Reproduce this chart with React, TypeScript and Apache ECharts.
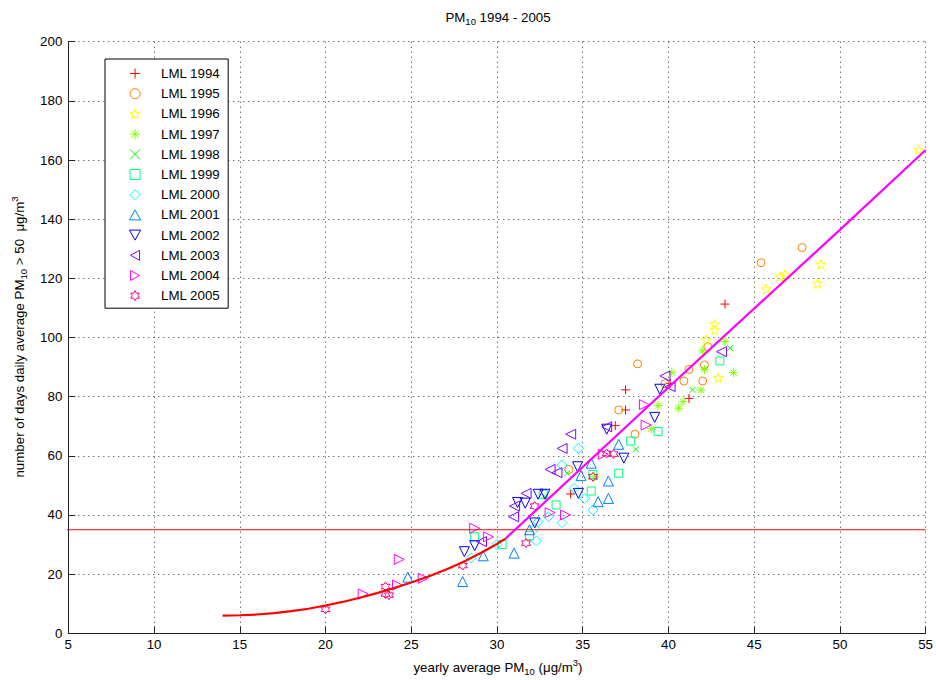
import React, { useEffect, useRef } from 'react';
import * as echarts from 'echarts';

const FONT = '"Liberation Sans", Arial, Helvetica, sans-serif';

const seriesNames = ['LML 1994', 'LML 1995', 'LML 1996', 'LML 1997', 'LML 1998', 'LML 1999', 'LML 2000', 'LML 2001', 'LML 2002', 'LML 2003', 'LML 2004', 'LML 2005'];
const seriesColors = ['#ff0000', '#ff8000', '#ffff00', '#80ff00', '#00ff00', '#00ff80', '#00ffff', '#0080ff', '#0000ff', '#8000ff', '#ff00ff', '#ff0080'];

const xTicks = [5, 10, 15, 20, 25, 30, 35, 40, 45, 50, 55];
const yTicks = [0, 20, 40, 60, 80, 100, 120, 140, 160, 180, 200];

// [yearly average PM10, number of days > 50]
const d1994 = [[34.3, 47.1], [36.9, 70.2], [37.5, 75.5], [37.5, 82.3], [40.1, 84.5], [41.2, 79.4], [43.3, 111.3]];
const d1995 = [[34.2, 55.4], [37.1, 75.5], [38.05, 67.3], [38.2, 91.1], [39.8, 84.4], [40.9, 85.3], [41.2, 89.2], [42.0, 85.3], [42.1, 90.7], [42.3, 96.9], [45.4, 125.3], [47.8, 130.4]];
const d1996 = [[42.2, 99.2], [42.7, 102.5], [42.7, 104.5], [42.9, 86.4], [45.7, 116.4], [46.5, 120.6], [46.8, 121.4], [48.7, 118.3], [48.9, 124.7], [54.6, 163.5]];
const d1997 = [[35.7, 52.9], [39.0, 69.1], [39.4, 77.0], [40.2, 88.2], [40.6, 76.1], [40.85, 78.3], [41.9, 82.2], [42.0, 95.5], [42.1, 89.2], [43.3, 98.6], [43.8, 88.1]];
const d1998 = [[32.8, 46.2], [34.1, 54.1], [38.1, 62.2], [41.4, 82.3], [43.6, 96.4]];
const d1999 = [[28.7, 32.6], [30.3, 30.0], [31.9, 33.0], [32.7, 47.0], [33.45, 43.4], [35.5, 48.1], [35.6, 53.7], [37.1, 54.1], [37.8, 65.0], [39.4, 68.2], [43.0, 92.1]];
const d2000 = [[28.5, 25.5], [30.0, 30.0], [32.3, 31.2], [32.2, 35.3], [32.4, 37.7], [33.0, 39.4], [33.8, 37.4], [33.8, 56.9], [34.5, 49.0], [34.75, 62.5], [35.1, 45.6], [35.6, 41.7]];
const d2001 = [[24.8, 19.0], [28.0, 17.5], [29.2, 26.2], [31.0, 27.1], [31.9, 35.0], [34.9, 53.3], [35.5, 57.5], [35.9, 44.5], [36.5, 45.6], [36.5, 51.5], [37.1, 63.9]];
const d2002 = [[28.1, 27.6], [28.7, 29.6], [31.2, 44.2], [31.65, 44.0], [32.2, 37.3], [32.4, 47.0], [32.8, 47.0], [34.7, 56.3], [34.75, 47.3], [36.4, 69.0], [37.4, 59.2], [39.2, 73.0], [39.5, 82.5]];
const d2003 = [[29.1, 31.0], [30.97, 39.4], [31.03, 43.0], [31.7, 47.3], [33.1, 55.4], [33.5, 54.3], [33.8, 62.5], [34.3, 67.3], [36.4, 69.8], [39.8, 87.0], [40.1, 83.4], [43.1, 95.2]];
const d2004 = [[22.2, 13.3], [24.2, 16.3], [24.3, 25.0], [25.7, 18.6], [28.7, 35.5], [29.5, 32.6], [33.1, 40.8], [34.0, 40.0], [36.2, 60.5], [38.6, 77.3], [38.7, 70.4]];
const d2005 = [[20.0, 8.1], [23.5, 15.8], [23.5, 13.3], [23.7, 12.9], [28.0, 22.9], [31.7, 30.5], [32.2, 43.0], [35.6, 52.9], [36.4, 60.8], [36.8, 60.6]];
const yearData = [d1994, d1995, d1996, d1997, d1998, d1999, d2000, d2001, d2002, d2003, d2004, d2005];

// fitted curve (lower red part, upper magenta part)
const fitLowX = [14, 15, 16, 17, 18, 19, 20, 21, 22, 23, 24, 25, 26, 27, 28, 29, 30, 30.5];
const fitLowY = [6.0, 6.1, 6.35, 6.8, 7.5, 8.3, 9.4, 10.6, 12.0, 13.6, 15.3, 17.2, 19.2, 21.5, 24.0, 27.0, 30.2, 32.0];
const fitHighX = [30.5, 40.5, 50, 55];
const fitHighY = [32.0, 85.8, 136.4, 163.4];

// limit: 35 days
const limitX = [3.1, 55];
const limitY = [35, 35];

const SYM = {
  plus: 'path://M5,0L5,10M0,5L10,5',
  circle: 'path://M10,5A5,5,0,1,1,0,5A5,5,0,1,1,10,5Z',
  pentagram: 'path://M50,0L61.23,34.55L97.55,34.55L68.17,55.9L79.39,90.45L50,69.1L20.61,90.45L31.83,55.9L2.45,34.55L38.77,34.55Z',
  asterisk: 'path://M5,0L5,10M0,5L10,5M1.5,1.5L8.5,8.5M8.5,1.5L1.5,8.5',
  cross: 'path://M0,0L10,10M10,0L0,10',
  square: 'path://M0,0L10,0L10,10L0,10Z',
  diamond: 'path://M5,0L10,5L5,10L0,5Z',
  up: 'path://M5,0L10,9L0,9Z',
  down: 'path://M0,0L10,0L5,9Z',
  left: 'path://M0,5L9,0L9,10Z',
  right: 'path://M0,0L9,5L0,10Z',
  hexagram: 'path://M50,0L64.43,25L93.3,25L78.87,50L93.3,75L64.43,75L50,100L35.57,75L6.7,75L21.13,50L6.7,25L35.57,25Z',
};
const seriesSymbols = [SYM.plus, SYM.circle, SYM.pentagram, SYM.asterisk, SYM.cross, SYM.square, SYM.diamond, SYM.up, SYM.down, SYM.left, SYM.right, SYM.hexagram];
const seriesSizes = [9, 8, 10, 9, 6, 8, 10, 10, 10, 10, 10, 9];

export default function App() {
  const ref = useRef<HTMLDivElement>(null);
  useEffect(() => {
    document.body.style.margin = '0';
    const chart = echarts.init(ref.current as HTMLDivElement, null, { renderer: 'svg' });
    const baseRich = {
      a: { fontSize: 13.3, fontFamily: FONT, fill: '#000', verticalAlign: 'middle' },
      s: { fontSize: 9.5, fontFamily: FONT, fill: '#000', padding: [9, 0, 0, 0], verticalAlign: 'middle' },
      p: { fontSize: 9.5, fontFamily: FONT, fill: '#000', padding: [0, 0, 9, 0], verticalAlign: 'middle' },
    };
    const scatterSeries = seriesNames.map((name, i) => ({
      type: 'scatter',
      name,
      data: yearData[i],
      symbol: seriesSymbols[i],
      symbolSize: seriesSizes[i],
      itemStyle: { color: 'none', borderColor: seriesColors[i], borderWidth: 1, opacity: 1 },
      silent: true,
      z: 2,
    }));
    const option = {
      animation: false,
      backgroundColor: '#fff',
      grid: { left: 68.3, right: 7.7, top: 41.7, bottom: 46.7, containLabel: false },
      xAxis: {
        type: 'value',
        min: xTicks[0],
        max: xTicks[xTicks.length - 1],
        interval: 5,
        axisLine: { show: true, onZero: false, lineStyle: { color: '#222', width: 1 } },
        axisTick: { show: true, inside: true, length: 7, lineStyle: { color: '#222' } },
        axisLabel: { color: '#000', fontSize: 13.3, fontFamily: FONT, margin: 5 },
        splitLine: { show: true, lineStyle: { color: '#333', width: 1, type: [1, 4] } },
      },
      yAxis: {
        type: 'value',
        min: yTicks[0],
        max: yTicks[yTicks.length - 1],
        interval: 20,
        axisLine: { show: true, onZero: false, lineStyle: { color: '#222', width: 1 } },
        axisTick: { show: true, inside: true, length: 7, lineStyle: { color: '#222' } },
        axisLabel: { color: '#000', fontSize: 13.3, fontFamily: FONT, margin: 6 },
        splitLine: { show: true, lineStyle: { color: '#333', width: 1, type: [1, 4] } },
      },
      legend: {
        data: seriesNames,
        orient: 'vertical',
        left: 105,
        top: 59,
        padding: [7, 8, 5, 22],
        itemWidth: 42,
        itemHeight: 10,
        itemGap: 5.2,
        borderColor: '#000',
        borderWidth: 1,
        borderRadius: 0,
        backgroundColor: '#fff',
        selectedMode: false,
        itemStyle: { borderWidth: 1 },
        textStyle: { color: '#000', fontSize: 13.3, fontFamily: FONT },
        z: 10,
      },
      series: [
        ...scatterSeries,
        {
          type: 'line',
          name: 'limit',
          data: limitX.map((x, i) => [x, limitY[i]]),
          symbol: 'none',
          clip: false,
          lineStyle: { color: '#ff0000', width: 1.2 },
          silent: true,
          z: 3,
        },
        {
          type: 'line',
          name: 'fitLow',
          data: fitLowX.map((x, i) => [x, fitLowY[i]]),
          symbol: 'none',
          smooth: false,
          lineStyle: { color: '#ff0000', width: 2.2 },
          silent: true,
          z: 4,
        },
        {
          type: 'line',
          name: 'fitHigh',
          data: fitHighX.map((x, i) => [x, fitHighY[i]]),
          symbol: 'none',
          smooth: false,
          lineStyle: { color: '#ff00ff', width: 2.2 },
          silent: true,
          z: 4,
        },
      ],
      graphic: [
        {
          type: 'text',
          x: 498,
          y: 17,
          silent: true,
          style: { text: '{a|PM}{s|10}{a| 1994 - 2005}', rich: baseRich, align: 'center', verticalAlign: 'middle' },
        },
        {
          type: 'text',
          x: 498,
          y: 667,
          silent: true,
          style: { text: '{a|yearly average PM}{s|10}{a| (μg/m}{p|3}{a|)}', rich: baseRich, align: 'center', verticalAlign: 'middle' },
        },
        {
          type: 'text',
          x: 19,
          y: 337,
          rotation: Math.PI / 2,
          silent: true,
          style: { text: '{a|number of days daily average PM}{s|10}{a| > 50  μg/m}{p|3}', rich: baseRich, align: 'center', verticalAlign: 'middle' },
        },
      ],
    };
    chart.setOption(option as any);
    return () => chart.dispose();
  }, []);
  return <div ref={ref} style={{ width: 936, height: 680 }} />;
}
